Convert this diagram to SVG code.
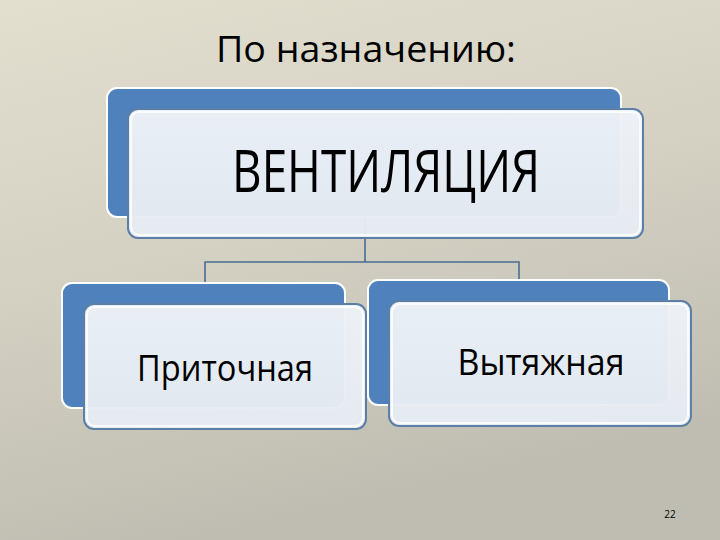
<svg xmlns="http://www.w3.org/2000/svg" width="720" height="540" viewBox="0 0 720 540">
<defs>
<linearGradient id="bg" x1="0" y1="0" x2="0.3" y2="1">
<stop offset="0" stop-color="#e3dfcf"/>
<stop offset="0.5" stop-color="#d4d1c3"/>
<stop offset="1" stop-color="#bfbdb1"/>
</linearGradient>
<linearGradient id="front" x1="0" y1="0" x2="0" y2="1">
<stop offset="0" stop-color="#eef2f7"/>
<stop offset="1" stop-color="#e6ebf2"/>
</linearGradient>
</defs>
<style>
.back{fill:#4f81bd;stroke:#ffffff;stroke-width:2}
.front{fill:url(#front);fill-opacity:0.97;stroke:#5b7fa6;stroke-width:2}
.inner{fill:none;stroke:#ffffff;stroke-width:2;opacity:0.8}
.conn{fill:none;stroke:#4a6d94;stroke-width:1.6}
.t{font-family:"Open Sans","Noto Sans","Liberation Sans",sans-serif;fill:#000}
</style>
<rect width="720" height="540" fill="url(#bg)"/>
<text class="t" x="366" y="62" font-size="36" text-anchor="middle" textLength="300" lengthAdjust="spacingAndGlyphs">По назначению:</text>
<g id="connectors">
<path class="conn" d="M365 217 V262 M205 283 V262 H519 V281"/>
</g>
<g id="ventilation">
<rect class="back" x="107" y="88" width="514" height="129" rx="10"/>
<rect class="front" x="128" y="109" width="515" height="129" rx="10"/>
<rect class="inner" x="131" y="112" width="509" height="123" rx="8"/>
<text class="t" x="386" y="192" font-size="58" text-anchor="middle" textLength="308" lengthAdjust="spacingAndGlyphs">ВЕНТИЛЯЦИЯ</text>
</g>
<g id="supply">
<rect class="back" x="62" y="283" width="283" height="125" rx="10"/>
<rect class="front" x="84" y="304" width="282" height="125" rx="10"/>
<rect class="inner" x="87" y="307" width="276" height="119" rx="8"/>
<text class="t" x="225" y="381" font-size="37" text-anchor="middle" textLength="176" lengthAdjust="spacingAndGlyphs">Приточная</text>
</g>
<g id="exhaust">
<rect class="back" x="368" y="280" width="301" height="125" rx="10"/>
<rect class="front" x="389" y="301" width="302" height="125" rx="10"/>
<rect class="inner" x="392" y="304" width="296" height="119" rx="8"/>
<text class="t" x="541" y="375" font-size="37" text-anchor="middle" textLength="167" lengthAdjust="spacingAndGlyphs">Вытяжная</text>
</g>
<text class="t" x="670" y="518" font-size="10" text-anchor="middle">22</text>
</svg>
